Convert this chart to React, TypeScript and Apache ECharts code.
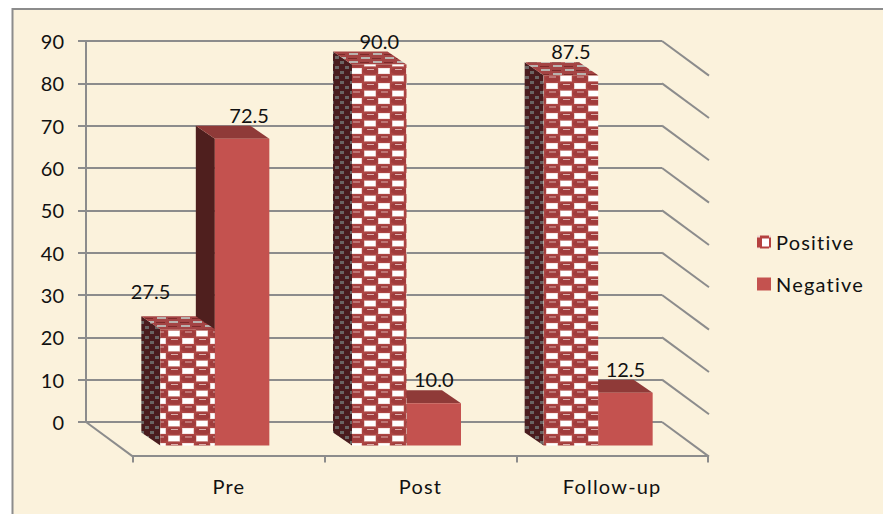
import React, { useEffect, useRef } from "react";
import * as echarts from "echarts";

const categories = ["Pre", "Post", "Follow-up"];
const seriesNames = ["Positive", "Negative"];
const positiveValues = [27.5, 90.0, 87.5];
const negativeValues = [72.5, 10.0, 12.5];
const yTicks = [0, 10, 20, 30, 40, 50, 60, 70, 80, 90];

const FONT = "Lato";
const GRID = "#8c8c8c";
const BG = "#fbf2dc";

function canvasOf(w: number, h: number, draw: (c: CanvasRenderingContext2D) => void) {
  const cv = document.createElement("canvas");
  cv.width = w;
  cv.height = h;
  draw(cv.getContext("2d") as CanvasRenderingContext2D);
  return cv;
}

function frontTile() {
  return canvasOf(28, 15, (c) => {
    c.fillStyle = "#ad4644";
    c.fillRect(0, 0, 28, 15);
    const cell = (x: number, y: number) => {
      c.fillStyle = "#ecd3d0";
      c.fillRect(x, y + 0.5, 12, 6);
      c.fillStyle = "#ffffff";
      c.fillRect(x + 1, y + 1, 10, 5);
      c.fillStyle = "#a03c3c";
      c.beginPath();
      c.ellipse(x + 20.5, y + 3.5, 7.5, 3.6, 0, 0, Math.PI * 2);
      c.fill();
      c.fillStyle = "#dcaeab";
      c.fillRect(x + 17, y + 1.5, 7, 1);
    };
    cell(0, 0);
    cell(14, 7.5);
    cell(-14, 7.5);
  });
}

function sideTile() {
  return canvasOf(10, 10, (c) => {
    c.fillStyle = "#4a1c1e";
    c.fillRect(0, 0, 10, 10);
    c.fillStyle = "#6b6564";
    c.fillRect(0, 1, 4, 3);
    c.fillRect(5, 6, 4, 3);
  });
}

function topTile() {
  return canvasOf(24, 8, (c) => {
    c.fillStyle = "#a44444";
    c.fillRect(0, 0, 24, 8);
    c.fillStyle = "#b9b2ae";
    c.fillRect(1, 1, 9, 2);
    c.fillRect(13, 5, 9, 2);
    c.fillStyle = "#7d2b2b";
    c.fillRect(12, 2, 9, 1);
    c.fillRect(0, 6, 9, 1);
  });
}

function legendTile() {
  return canvasOf(14, 14, (c) => {
    c.fillStyle = "#b5413f";
    c.fillRect(0, 0, 14, 14);
    c.fillStyle = "#ffffff";
    c.fillRect(5, 3, 7, 8);
    c.fillStyle = "#f0d8d4";
    c.fillRect(0, 0, 3, 2);
    c.fillRect(0, 12, 3, 2);
    c.fillRect(12, 0, 2, 2);
    c.fillRect(12, 12, 2, 2);
  });
}

export default function App() {
  const ref = useRef<HTMLDivElement>(null);

  useEffect(() => {
    const chart = echarts.init(ref.current as HTMLDivElement, undefined, { renderer: "svg" });
    const pat = (image: HTMLCanvasElement) => ({ image, repeat: "repeat" }) as any;
    const front = pat(frontTile());
    const side = pat(sideTile());
    const top = pat(topTile());

    const DX = -19;
    const DY = -13;
    const SHIFT = -14;
    const WIDTH = 54.5;

    const barSeries = (
      name: string,
      values: number[],
      leftOf: (c: number) => number,
      styles: { front: any; side: any; top: any },
      z: number,
      nudges: number[][]
    ) => ({
      type: "custom",
      name,
      xAxisIndex: 1,
      yAxisIndex: 1,
      z,
      clip: false,
      data: values.map((v, i) => [i, v]),
      encode: { x: 0, y: 1 },
      itemStyle: { color: "#c4524f" },
      renderItem: (params: any, api: any) => {
        const i = api.value(0);
        const v = api.value(1);
        const t = api.coord([i, v]);
        const b = api.coord([i, 0]);
        const x0 = leftOf(t[0] + SHIFT);
        const x1 = x0 + WIDTH;
        const yT = t[1];
        const yB = b[1];
        const n = nudges[params.dataIndex];
        return {
          type: "group",
          children: [
            {
              type: "polygon",
              shape: { points: [[x0, yT], [x0 + DX, yT + DY], [x0 + DX, yB + DY], [x0, yB]] },
              style: { fill: styles.side },
            },
            {
              type: "polygon",
              shape: { points: [[x0, yT], [x0 + DX, yT + DY], [x1 + DX, yT + DY], [x1, yT]] },
              style: { fill: styles.top },
            },
            {
              type: "rect",
              shape: { x: x0, y: yT, width: WIDTH, height: yB - yT },
              style: { fill: styles.front },
            },
            {
              type: "text",
              style: {
                text: v.toFixed(1),
                x: (x0 + x1) / 2 + n[0],
                y: yT - 24 + n[1],
                align: "center",
                verticalAlign: "middle",
                fill: "#111111",
                font: `20px "${FONT}"`,
              },
            },
          ],
        };
      },
    });

    const option: any = {
      animation: false,
      backgroundColor: "#ffffff",
      graphic: [
        {
          type: "rect",
          z: -10,
          shape: { x: 12.5, y: 9, width: 900, height: 600 },
          style: { fill: BG, stroke: GRID, lineWidth: 2 },
        },
      ],
      legend: {
        orient: "vertical",
        left: 757,
        top: 232,
        padding: 0,
        itemWidth: 14,
        itemHeight: 13,
        itemGap: 22,
        icon: "rect",
        data: [
          { name: seriesNames[0], itemStyle: { color: pat(legendTile()) } },
          { name: seriesNames[1], itemStyle: { color: "#c4524f" } },
        ],
        textStyle: { fontFamily: FONT, fontSize: 20, color: "#111111" },
        selectedMode: false,
      },
      grid: [
        { left: 86, top: 41, width: 576, height: 381 },
        { left: 133, top: 64.6, width: 575, height: 381 },
      ],
      xAxis: [
        { gridIndex: 0, type: "value", min: 0, max: 1, show: false },
        {
          gridIndex: 1,
          type: "category",
          data: categories,
          offset: 10.4,
          axisLine: { onZero: false, lineStyle: { color: GRID, width: 2 } },
          axisTick: { show: true, length: 6.5, lineStyle: { color: GRID, width: 2 } },
          axisLabel: { margin: 20, fontFamily: FONT, fontSize: 20, color: "#111111" },
          splitLine: { show: false },
        },
      ],
      yAxis: [
        {
          gridIndex: 0,
          type: "value",
          min: 0,
          max: 90,
          interval: 10,
          axisLine: { show: true, lineStyle: { color: GRID, width: 2 } },
          axisTick: { show: true, length: 8, lineStyle: { color: GRID, width: 2 } },
          axisLabel: { margin: 22, fontFamily: FONT, fontSize: 20, color: "#111111" },
          splitLine: { show: true, lineStyle: { color: GRID, width: 2 } },
        },
        { gridIndex: 1, type: "value", min: 0, max: 90, show: false },
      ],
      series: [
        {
          type: "custom",
          name: "walls",
          xAxisIndex: 0,
          yAxisIndex: 0,
          z: 1,
          clip: false,
          data: yTicks.map((v) => [1, v]),
          encode: { x: 0, y: 1 },
          renderItem: (params: any, api: any) => {
            const p = api.coord([1, api.value(1)]);
            const lineStyle = { stroke: GRID, lineWidth: 2 };
            const children: any[] = [
              { type: "line", shape: { x1: p[0], y1: p[1], x2: p[0] + 47, y2: p[1] + 34.6 }, style: lineStyle },
            ];
            if (api.value(1) === 0) {
              const q = api.coord([0, 0]);
              children.push({
                type: "line",
                shape: { x1: q[0], y1: q[1], x2: q[0] + 47, y2: q[1] + 34.6 },
                style: lineStyle,
              });
            }
            return { type: "group", children };
          },
        },
        barSeries(seriesNames[0], positiveValues, (c) => c - WIDTH, { front, side, top }, 4, [[-37, -14], [0, 0], [0, 0]]),
        barSeries(seriesNames[1], negativeValues, (c) => c, { front: "#c4524f", side: "#4f1f1e", top: "#8f3a38" }, 3, [[7, 0], [0, 0], [0, 0]]),
      ],
    };

    chart.setOption(option);
    // The reference's axis and legend words are set with open tracking.
    const spaced = new Set([...categories, ...seriesNames]);
    (ref.current as HTMLDivElement).querySelectorAll("text").forEach((el) => {
      if (spaced.has((el.textContent || "").trim())) (el as any).style.letterSpacing = "1.2px";
    });
    return () => chart.dispose();
  }, []);

  return <div ref={ref} style={{ position: "fixed", left: 0, top: 0, width: 883, height: 514 }} />;
}
